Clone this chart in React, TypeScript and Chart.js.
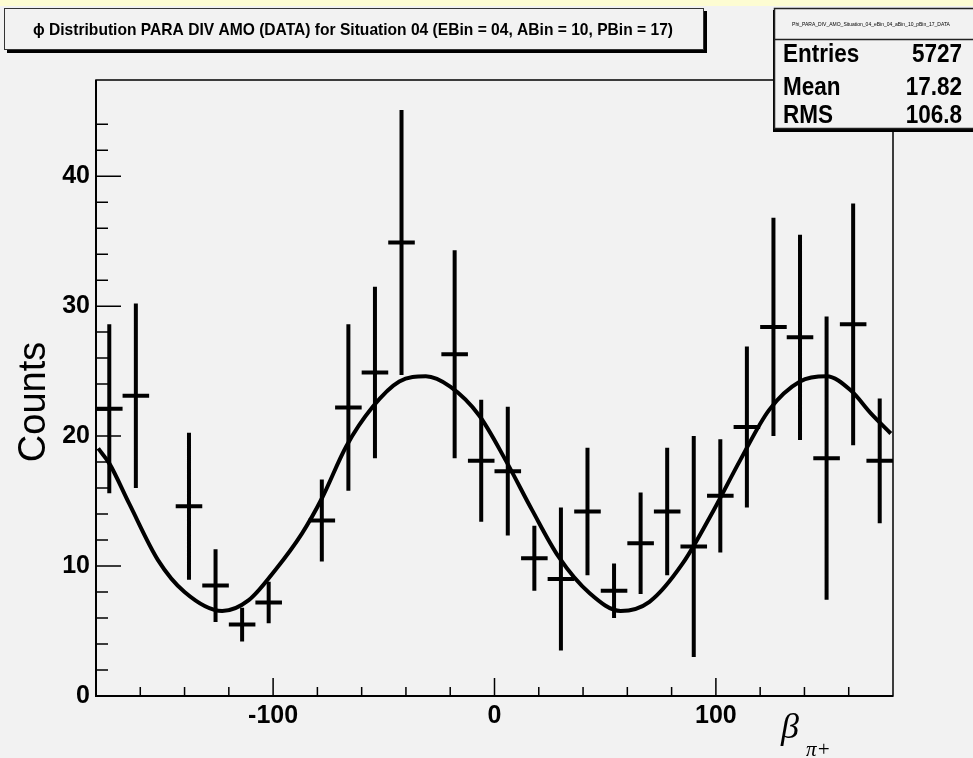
import React, { useEffect, useRef } from 'react';
import { Chart, registerables } from 'chart.js';

Chart.register(...registerables);

// ---- data ----
const binCenters = [-174, -162, -150, -138, -126, -114, -102, -90, -78, -66, -54, -42, -30, -18, -6, 6, 18, 30, 42, 54, 66, 78, 90, 102, 114, 126, 138, 150, 162, 174];
const counts: (number | null)[] = [22.1, 23.1, null, 14.6, 8.5, 5.5, 7.2, null, 13.5, 22.2, 24.9, 34.9, null, 26.3, 18.1, 17.3, 10.6, 9.0, 14.2, 8.1, 11.75, 14.2, 11.5, 15.4, 20.7, 28.4, 27.6, 18.3, 28.6, 18.1];
const errors: (number | null)[] = [6.5, 7.1, null, 5.65, 2.8, 1.3, 1.6, null, 3.15, 6.4, 6.6, 10.2, null, 8.0, 4.7, 4.95, 2.5, 5.5, 4.9, 2.1, 3.9, 4.9, 8.5, 4.35, 6.2, 8.4, 7.9, 10.9, 9.3, 4.8];
const binHalfWidth = 6;

const fitX = [-179, -174, -165, -152, -140, -123, -111, -99, -87, -78, -67, -55, -43, -31, -20, -7, 5, 17, 29, 43, 57, 70, 85, 99, 111, 124, 138, 150, 161, 170, 179];
const fitY = [19.05, 17.9, 14.8, 10.46, 8.0, 6.54, 7.38, 9.7, 12.5, 15.2, 19.2, 22.25, 24.2, 24.6, 23.8, 21.6, 18.15, 14.3, 10.7, 7.9, 6.54, 7.25, 10.2, 14.3, 18.15, 22.0, 24.2, 24.6, 23.5, 21.75, 20.2];

const titleText = '\u03D5 Distribution PARA DIV AMO (DATA) for Situation 04 (EBin = 04, ABin = 10, PBin = 17)';
const statsName = 'Phi_PARA_DIV_AMO_Situation_04_eBin_04_aBin_10_pBin_17_DATA';
const statsLabels = ['Entries', 'Mean', 'RMS'];
const statsValues = ['5727', '17.82', '106.8'];
const yTitle = 'Counts';
const xTitleMain = '\u03B2';
const xTitleSub = '\u03C0+';

const SANS = '"Liberation Sans", Arial, sans-serif';
const SERIF = '"Liberation Serif", "Times New Roman", serif';

function condensed(ctx: CanvasRenderingContext2D, text: string, x: number, y: number, sx: number, align: CanvasTextAlign) {
  ctx.save();
  ctx.translate(x, y);
  ctx.scale(sx, 1);
  ctx.textAlign = align;
  ctx.fillText(text, 0, 0);
  ctx.restore();
}

const decor = {
  id: 'decor',
  beforeDraw(chart: any) {
    const ctx = chart.ctx as CanvasRenderingContext2D;
    ctx.save();
    ctx.fillStyle = '#f2f2f2';
    ctx.fillRect(0, 0, chart.width, chart.height);
    ctx.fillStyle = '#fdfcd2';
    ctx.fillRect(0, 0, chart.width, 6);
    ctx.restore();
  },
  beforeDatasetsDraw(chart: any) {
    const ctx = chart.ctx as CanvasRenderingContext2D;
    const a = chart.chartArea;
    const xs = chart.scales.x;
    const ys = chart.scales.y;
    ctx.save();
    ctx.strokeStyle = '#000';
    ctx.lineWidth = 1.5;
    ctx.strokeRect(a.left, a.top, a.right - a.left, a.bottom - a.top);
    ctx.lineWidth = 2;
    ctx.beginPath();
    ctx.moveTo(a.left, a.top);
    ctx.lineTo(a.left, a.bottom);
    ctx.lineTo(a.right, a.bottom);
    ctx.stroke();
    ctx.lineWidth = 1.5;
    ctx.beginPath();
    xs.ticks.forEach((t: any) => {
      const v = t.value;
      if (v <= xs.min + 1e-6 || v >= xs.max - 1e-6) return;
      const px = xs.getPixelForValue(v);
      const len = Math.abs(v % 100) < 1e-6 ? 18 : 9;
      ctx.moveTo(px, a.bottom);
      ctx.lineTo(px, a.bottom - len);
    });
    ys.ticks.forEach((t: any) => {
      const v = t.value;
      if (v <= ys.min + 1e-6 || v >= ys.max - 1e-6) return;
      if (Math.abs(v / 2 - Math.round(v / 2)) > 1e-6) return;
      const py = ys.getPixelForValue(v);
      const len = Math.abs(v % 10) < 1e-6 ? 25 : 12;
      ctx.moveTo(a.left, py);
      ctx.lineTo(a.left + len, py);
    });
    ctx.stroke();
    ctx.restore();
  },
  afterDatasetsDraw(chart: any) {
    const ctx = chart.ctx as CanvasRenderingContext2D;
    const ys = chart.scales.y;
    const xs = chart.scales.x;
    const ds = chart.data.datasets[1];
    const meta = chart.getDatasetMeta(1);
    ctx.save();
    ctx.strokeStyle = '#000';
    ctx.lineWidth = 4;
    ctx.lineCap = 'butt';
    ctx.beginPath();
    meta.data.forEach((el: any, i: number) => {
      const raw = ds.data[i];
      const px = el.x;
      const py = el.y;
      const x0 = xs.getPixelForValue(raw.x - binHalfWidth);
      const x1 = xs.getPixelForValue(raw.x + binHalfWidth);
      const yTop = ys.getPixelForValue(raw.y + raw.e);
      const yBot = ys.getPixelForValue(raw.y - raw.e);
      ctx.moveTo(x0, py);
      ctx.lineTo(x1, py);
      ctx.moveTo(px, yTop);
      ctx.lineTo(px, yBot);
    });
    ctx.stroke();
    ctx.restore();
  },
  afterDraw(chart: any) {
    const ctx = chart.ctx as CanvasRenderingContext2D;
    ctx.save();
    // title box
    ctx.fillStyle = '#000';
    ctx.fillRect(7, 11, 700, 42);
    ctx.fillStyle = '#f2f2f2';
    ctx.fillRect(4, 8, 700, 42);
    ctx.strokeStyle = '#333';
    ctx.lineWidth = 1;
    ctx.strokeRect(4.5, 8.5, 699, 41);
    ctx.fillStyle = '#000';
    ctx.font = `bold 17px ${SANS}`;
    ctx.textAlign = 'left';
    ctx.textBaseline = 'alphabetic';
    ctx.fillText(titleText, 33, 35, 640);

    // stats box
    ctx.fillStyle = '#000';
    ctx.fillRect(773, 10, 210, 122);
    ctx.fillStyle = '#f2f2f2';
    ctx.fillRect(775, 8, 210, 121);
    ctx.strokeStyle = '#222';
    ctx.lineWidth = 1.5;
    ctx.strokeRect(774.5, 8.5, 210, 120);
    ctx.beginPath();
    ctx.moveTo(774, 39.5);
    ctx.lineTo(973, 39.5);
    ctx.stroke();
    ctx.fillStyle = '#000';
    ctx.font = `5px ${SANS}`;
    ctx.textAlign = 'center';
    ctx.fillText(statsName, 871, 26, 169);
    ctx.font = `bold 25px ${SANS}`;
    const baselines = [62, 95, 123];
    statsLabels.forEach((l, i) => condensed(ctx, l, 783, baselines[i], 0.9, 'left'));
    statsValues.forEach((v, i) => condensed(ctx, v, 962, baselines[i], 0.9, 'right'));

    // y title
    ctx.save();
    ctx.translate(45, 402);
    ctx.rotate(-Math.PI / 2);
    ctx.font = `38px ${SANS}`;
    ctx.textAlign = 'center';
    ctx.fillText(yTitle, 0, 0);
    ctx.restore();

    // x title
    ctx.textAlign = 'left';
    ctx.font = `italic 36px ${SERIF}`;
    ctx.fillText(xTitleMain, 781, 738);
    ctx.font = `italic 21px ${SERIF}`;
    ctx.fillText(xTitleSub, 806, 756);
    ctx.restore();
  },
};

export default function App() {
  const ref = useRef<HTMLCanvasElement | null>(null);
  useEffect(() => {
    if (!ref.current) return;
    const points: any[] = [];
    binCenters.forEach((x, i) => {
      const c = counts[i];
      const e = errors[i];
      if (c !== null && e !== null) points.push({ x, y: c, e });
    });
    const chart = new Chart(ref.current, {
      type: 'scatter',
      data: {
        datasets: [
          {
            type: 'line',
            data: fitX.map((x, i) => ({ x, y: fitY[i] })),
            borderColor: '#000',
            borderWidth: 4,
            pointRadius: 0,
            fill: false,
            cubicInterpolationMode: 'monotone',
          } as any,
          {
            type: 'scatter',
            data: points,
            pointRadius: 0,
            borderColor: '#000',
            backgroundColor: '#000',
          } as any,
        ],
      },
      options: {
        animation: false,
        responsive: false,
        devicePixelRatio: 1,
        layout: { padding: { left: 0, top: 80, right: 80, bottom: 0 } },
        plugins: { legend: { display: false }, tooltip: { enabled: false }, title: { display: false } },
        scales: {
          x: {
            type: 'linear',
            min: -180,
            max: 180,
            position: 'bottom',
            grid: { display: false, drawTicks: false },
            border: { display: false },
            ticks: {
              stepSize: 20,
              autoSkip: false,
              maxRotation: 0,
              minRotation: 0,
              padding: 5,
              color: '#000',
              font: { family: SANS, size: 25, weight: 'bold' },
              callback: (v: any) => (Math.abs(Number(v) % 100) < 1e-6 ? String(v) : ''),
            },
            afterFit: (s: any) => {
              s.height = 62;
            },
          },
          y: {
            type: 'linear',
            min: 0,
            max: 47.4,
            grid: { display: false, drawTicks: false },
            border: { display: false },
            ticks: {
              stepSize: 2,
              autoSkip: false,
              padding: 6,
              color: '#000',
              font: { family: SANS, size: 25, weight: 'bold' },
              callback: (v: any) => (Math.abs(Number(v) % 10) < 1e-6 ? String(v) : ''),
            },
            afterFit: (s: any) => {
              s.width = 96;
            },
          },
        },
      } as any,
      plugins: [decor],
    });
    return () => chart.destroy();
  }, []);
  return (
    <div style={{ position: 'fixed', left: 0, top: 0, width: 973, height: 758 }}>
      <canvas ref={ref} width={973} height={758} style={{ display: 'block', width: 973, height: 758 }} />
    </div>
  );
}
